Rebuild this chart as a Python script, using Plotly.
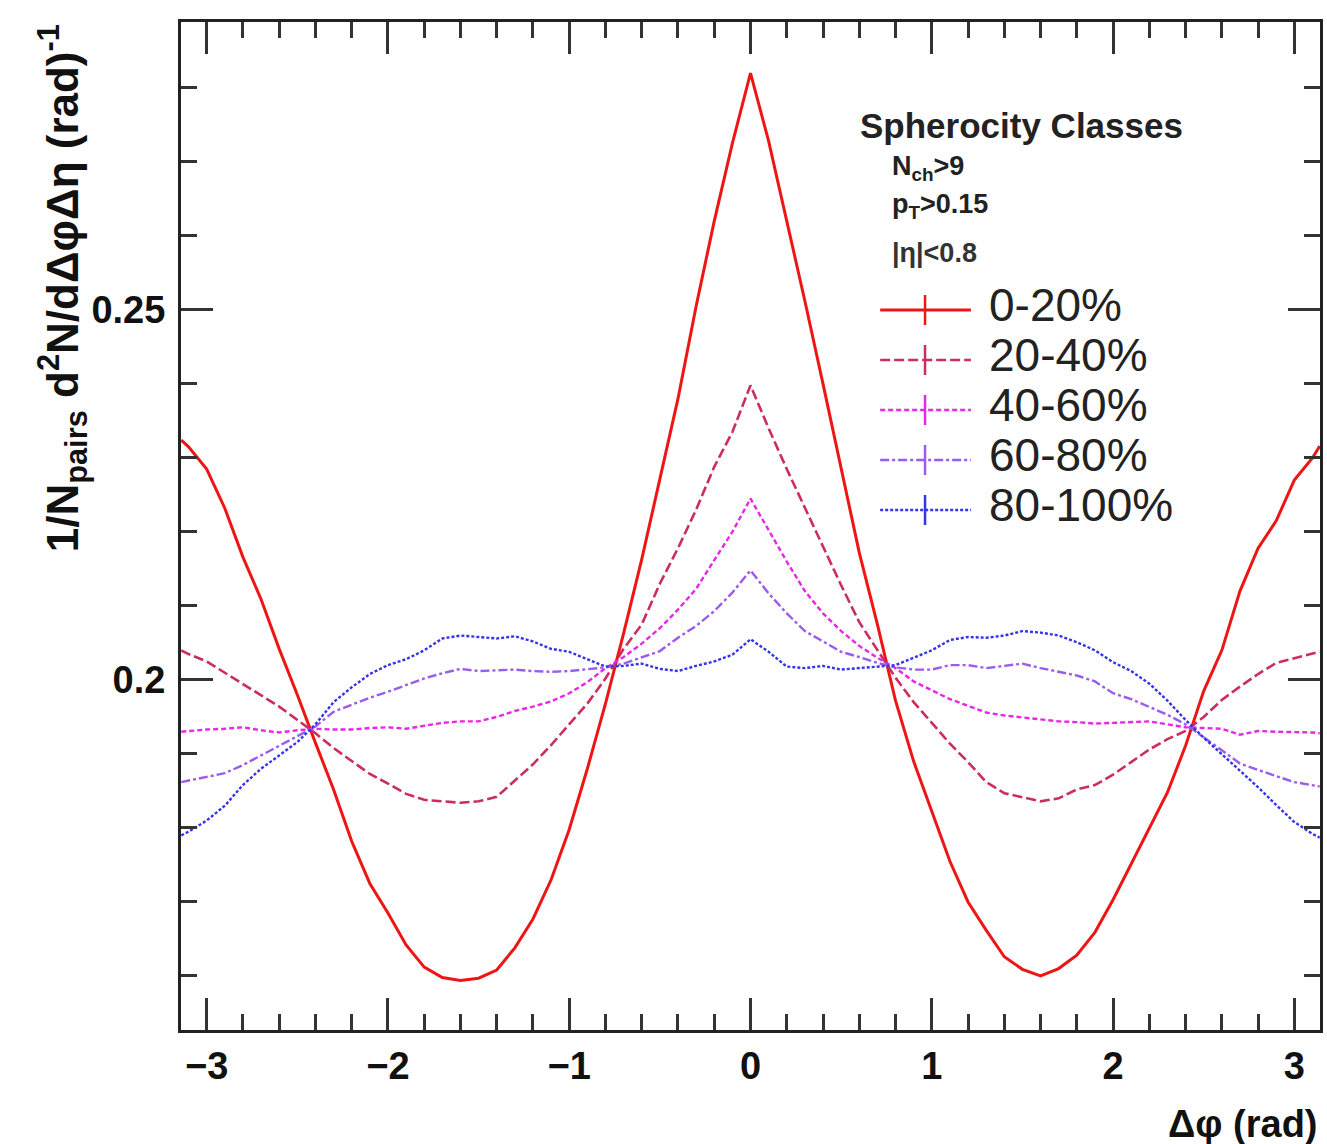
import plotly.graph_objects as go

# ---------------- data ----------------
dphi = [-3.14, -3.1, -3.0, -2.9, -2.8, -2.7, -2.6, -2.5, -2.4, -2.3, -2.2, -2.1,
        -2.0, -1.9, -1.8, -1.7, -1.6, -1.5, -1.4, -1.3, -1.2, -1.1, -1.0, -0.9,
        -0.8, -0.7, -0.6, -0.5, -0.4, -0.3, -0.2, -0.1, 0.0,
        0.1, 0.2, 0.3, 0.4, 0.5, 0.6, 0.7, 0.8, 0.9, 1.0, 1.1, 1.2, 1.3, 1.4,
        1.5, 1.6, 1.7, 1.8, 1.9, 2.0, 2.1, 2.2, 2.3, 2.4, 2.5, 2.6, 2.7, 2.8,
        2.9, 3.0, 3.1, 3.14]

s0_20 = [0.2324, 0.2315, 0.2285, 0.2232, 0.2166, 0.2109, 0.2042, 0.1980, 0.1915, 0.1852,
         0.1782, 0.1725, 0.1685, 0.1642, 0.1612, 0.1598, 0.1594, 0.1597, 0.1608, 0.1638,
         0.1677, 0.1730, 0.1798, 0.1880, 0.1968, 0.2063, 0.2163, 0.2270, 0.2380, 0.2505,
         0.2620, 0.2725,
         0.2820,
         0.2728, 0.2622, 0.2512, 0.2400, 0.2285, 0.2172, 0.2075, 0.1972, 0.1890, 0.1822,
         0.1755, 0.1700, 0.1662, 0.1626, 0.1609, 0.1600, 0.1610, 0.1628, 0.1659, 0.1703,
         0.1752, 0.1800, 0.1848, 0.1911, 0.1985, 0.2040, 0.2120, 0.2178, 0.2215, 0.2270,
         0.2300, 0.2316]

s20_40 = [0.2040, 0.2035, 0.2025, 0.2010, 0.1995, 0.1980, 0.1964, 0.1946, 0.1928, 0.1908,
          0.1890, 0.1873, 0.1860, 0.1846, 0.1838, 0.1836, 0.1834, 0.1836, 0.1842, 0.1864,
          0.1886, 0.1912, 0.1940, 0.1968, 0.2002, 0.2042, 0.2075, 0.2130, 0.2178, 0.2230,
          0.2288, 0.2335,
          0.2398,
          0.2340, 0.2285, 0.2232, 0.2180, 0.2128, 0.2078, 0.2040, 0.2003, 0.1970, 0.1942,
          0.1914, 0.1889, 0.1862, 0.1847, 0.1841, 0.1836, 0.1840, 0.1852, 0.1858, 0.1872,
          0.1889, 0.1906, 0.1920, 0.1931, 0.1950, 0.1973, 0.1991, 0.2008, 0.2023, 0.2029,
          0.2035, 0.2038]

s40_60 = [0.1930, 0.1931, 0.1933, 0.1934, 0.1936, 0.1932, 0.1929, 0.1932, 0.1934, 0.1933,
          0.1933, 0.1935, 0.1936, 0.1934, 0.1938, 0.1942, 0.1944, 0.1944, 0.1950, 0.1958,
          0.1964, 0.1971, 0.1982, 0.1997, 0.2016, 0.2031, 0.2049, 0.2070, 0.2095, 0.2123,
          0.2162, 0.2200,
          0.2245,
          0.2202, 0.2160, 0.2120, 0.2090, 0.2066, 0.2046, 0.2030, 0.2016, 0.1998, 0.1986,
          0.1974, 0.1965, 0.1956, 0.1952, 0.1949, 0.1946, 0.1944, 0.1943, 0.1941, 0.1942,
          0.1943, 0.1944, 0.1940, 0.1936, 0.1935, 0.1934, 0.1926, 0.1931, 0.1930, 0.1930,
          0.1929, 0.1928]

s60_80 = [0.1862, 0.1864, 0.1868, 0.1874, 0.1885, 0.1898, 0.1912, 0.1924, 0.1937, 0.1957,
          0.1967, 0.1976, 0.1984, 0.1993, 0.2002, 0.2009, 0.2015, 0.2012, 0.2013, 0.2014,
          0.2012, 0.2011, 0.2012, 0.2014, 0.2017, 0.2022, 0.2031, 0.2039, 0.2057, 0.2073,
          0.2093, 0.2118,
          0.2148,
          0.2117, 0.2090, 0.2066, 0.2052, 0.2038, 0.2031, 0.2023, 0.2017, 0.2014, 0.2014,
          0.2020, 0.2020, 0.2016, 0.2019, 0.2022, 0.2016, 0.2011, 0.2006, 0.1998, 0.1982,
          0.1974, 0.1964, 0.1953, 0.1940, 0.1923, 0.1905, 0.1887, 0.1878, 0.1870, 0.1862,
          0.1857, 0.1856]

s80_100 = [0.1790, 0.1795, 0.1810, 0.1830, 0.1858, 0.1880, 0.1898, 0.1916, 0.1940, 0.1970,
           0.1990, 0.2008, 0.2020, 0.2028, 0.2040, 0.2056, 0.2060, 0.2058, 0.2056, 0.2059,
           0.2052, 0.2042, 0.2038, 0.2028, 0.2018, 0.2019, 0.2022, 0.2015, 0.2012, 0.2019,
           0.2025, 0.2034,
           0.2055,
           0.2038, 0.2018, 0.2016, 0.2019, 0.2014, 0.2016, 0.2018, 0.2020, 0.2030, 0.2040,
           0.2054, 0.2058, 0.2057, 0.2060, 0.2066, 0.2064, 0.2060, 0.2051, 0.2040, 0.2024,
           0.2012, 0.1995, 0.1972, 0.1946, 0.1922, 0.1900, 0.1877, 0.1855, 0.1831, 0.1808,
           0.1792, 0.1787]

class_names = ["0-20%", "20-40%", "40-60%", "60-80%", "80-100%"]
series = [s0_20, s20_40, s40_60, s60_80, s80_100]

# ---------------- styles ----------------
colors = ["#ee1515", "#cc2d5f", "#e826e8", "#9a5cec", "#3434ec"]
dashes = ["solid", "10px,4px", "5px,3px", "9px,3px,3px,3px", "3px,2px"]
widths = [3, 2.6, 2.4, 2.4, 2.4]
FONT = "Liberation Sans"

W, H = 1327, 1144
L, R, T, B = 181, 4, 22, 114


def px2x(px):
    return (px - L) / (W - L - R)


def py2y(py):
    return (H - B - py) / (H - B - T)


fig = go.Figure()
for name, ys, c, d, w in zip(class_names, series, colors, dashes, widths):
    fig.add_trace(go.Scatter(x=dphi, y=ys, mode="lines", name=name,
                             line=dict(color=c, width=w, dash=d),
                             showlegend=False))

axis_common = dict(
    showline=True, linecolor="#222222", linewidth=3, mirror="allticks",
    ticks="inside", ticklen=32, tickwidth=2.5, tickcolor="#333333",
    showgrid=False, zeroline=False,
    tickfont=dict(family=FONT, size=38, color="#111111", weight="bold"),
)

fig.update_xaxes(range=[-3.1416, 3.1416], tick0=0, dtick=1,
                 minor=dict(tick0=0, dtick=0.2, ticks="inside", ticklen=16,
                            tickwidth=2.5, tickcolor="#333333"),
                 ticklabelstandoff=0, **axis_common)
fig.update_yaxes(range=[0.1527, 0.2889], tickmode="array", tickvals=[0.2, 0.25],
                 ticktext=["0.2", "0.25"],
                 minor=dict(tick0=0, dtick=0.01, ticks="inside", ticklen=16,
                            tickwidth=2.5, tickcolor="#333333"),
                 ticklabelstandoff=5, **axis_common)

annotations = []
shapes = []

# axis titles (ROOT style: aligned to the axis end)
annotations.append(dict(
    xref="paper", yref="paper", x=px2x(62), y=1.0, xanchor="center", yanchor="top",
    textangle=-90, showarrow=False,
    text="<b>1/N<sub>pairs</sub> d<sup>2</sup>N/dΔφΔη (rad)<sup>-1</sup></b>",
    font=dict(family=FONT, size=44, color="#111111")))
annotations.append(dict(
    xref="paper", yref="paper", x=1.0, y=py2y(1124), xanchor="right", yanchor="middle",
    showarrow=False, text="<b>Δφ (rad)</b>",
    font=dict(family=FONT, size=38, color="#111111")))

# legend header and cuts
annotations.append(dict(
    xref="paper", yref="paper", x=px2x(860), y=py2y(126), xanchor="left", yanchor="middle",
    showarrow=False, text="<b>Spherocity Classes</b>",
    font=dict(family=FONT, size=35, color="#222222")))
for txt, py, col in [("<b>N<sub>ch</sub>>9</b>", 168, "#222222"),
                     ("<b>p<sub>T</sub>>0.15</b>", 206, "#222222"),
                     ("<b>|η|<0.8</b>", 253, "#333333")]:
    annotations.append(dict(
        xref="paper", yref="paper", x=px2x(892), y=py2y(py), xanchor="left",
        yanchor="middle", showarrow=False, text=txt,
        font=dict(family=FONT, size=27, color=col)))

# legend entries
leg_y = [310, 360, 410, 460, 510]
for name, c, d, w, py in zip(class_names, colors, dashes, widths, leg_y):
    shapes.append(dict(type="line", xref="paper", yref="paper",
                       x0=px2x(882), x1=px2x(973), y0=py2y(py), y1=py2y(py),
                       line=dict(color=c, width=w, dash=d)))
    shapes.append(dict(type="line", xref="paper", yref="paper",
                       x0=px2x(927), x1=px2x(927), y0=py2y(py - 15), y1=py2y(py + 15),
                       line=dict(color=c, width=2.5)))
    annotations.append(dict(
        xref="paper", yref="paper", x=px2x(989), y=py2y(py - 5), xanchor="left",
        yanchor="middle", showarrow=False, text=name,
        font=dict(family=FONT, size=46, color="#222222")))

fig.update_layout(
    width=W, height=H, autosize=False,
    margin=dict(l=L, r=R, t=T, b=B),
    paper_bgcolor="white", plot_bgcolor="white",
    annotations=annotations, shapes=shapes,
    font=dict(family=FONT),
)

fig.write_html("out.html",
               config={"displayModeBar": False},
               post_script="document.body.style.margin='0px';"
                           "document.body.style.padding='0px';"
                           "document.body.style.overflow='hidden';")
